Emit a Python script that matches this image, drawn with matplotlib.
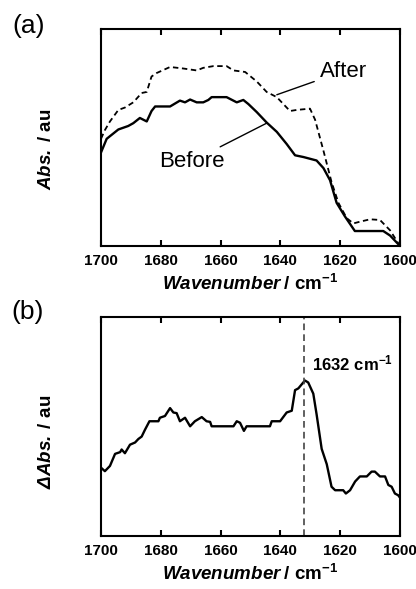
import matplotlib
matplotlib.use("Agg")
import matplotlib.pyplot as plt

plt.rcParams['font.family'] = ['Liberation Sans', 'DejaVu Sans']
plt.rcParams['mathtext.fontset'] = 'custom'
plt.rcParams['mathtext.rm'] = 'Liberation Sans:bold'
plt.rcParams['mathtext.bf'] = 'Liberation Sans:bold'
plt.rcParams['mathtext.it'] = 'Liberation Sans:italic:bold'
plt.rcParams['mathtext.bfit'] = 'Liberation Sans:italic:bold'

# ---- data (a) ----
before_wn = [1700, 1698.1, 1694.2, 1690.9, 1689.2, 1687.0, 1684.7, 1683.1, 1681.9, 1676.9,
             1673.6, 1671.9, 1670.2, 1668.0, 1665.8, 1664.1, 1663.0, 1658.0, 1654.6, 1652.4,
             1650.7, 1647.9, 1644.6, 1641.2, 1637.9, 1635.1, 1632.3, 1627.9, 1625.6, 1623.4,
             1621.2, 1618.4, 1615.1, 1605.6, 1603.3, 1600.0]
before_abs = [0.431, 0.494, 0.537, 0.553, 0.566, 0.590, 0.574, 0.622, 0.643, 0.643,
              0.670, 0.662, 0.675, 0.662, 0.662, 0.673, 0.686, 0.686, 0.662, 0.673,
              0.654, 0.617, 0.569, 0.526, 0.470, 0.418, 0.410, 0.394, 0.359, 0.303,
              0.199, 0.136, 0.069, 0.069, 0.048, 0.0]

after_wn = [1700, 1698.7, 1697.0, 1694.2, 1692.0, 1689.2, 1686.4, 1684.7, 1683.1, 1681.4,
            1676.9, 1672.5, 1668.0, 1665.8, 1662.4, 1658.0, 1655.7, 1651.8, 1647.9, 1644.6,
            1641.2, 1636.8, 1634.6, 1630.1, 1628.4, 1625.6, 1622.9, 1620.6, 1617.8, 1615.6,
            1613.4, 1610.0, 1606.7, 1603.3, 1600.0]
after_abs = [0.494, 0.534, 0.574, 0.627, 0.638, 0.662, 0.705, 0.710, 0.781, 0.797,
             0.825, 0.818, 0.809, 0.821, 0.829, 0.829, 0.809, 0.802, 0.758, 0.710,
             0.686, 0.622, 0.627, 0.633, 0.582, 0.439, 0.295, 0.199, 0.128, 0.104,
             0.112, 0.123, 0.120, 0.072, 0.0]

# ---- data (b) ----
diff_wn = [1700, 1698.7, 1697.0, 1695.3, 1693.6, 1693.1, 1692.0, 1690.3, 1688.6, 1687.5,
           1686.4, 1685.3, 1683.8, 1680.8, 1680.3, 1678.6, 1676.9, 1675.8, 1674.7, 1673.6,
           1671.9, 1670.2, 1668.6, 1666.3, 1664.7, 1663.5, 1663.0, 1655.7, 1654.6, 1653.5,
           1652.2, 1651.3, 1643.5, 1642.9, 1640.1, 1637.9, 1636.2, 1635.1, 1634.0, 1631.8,
           1630.7, 1629.0, 1627.9, 1626.2, 1624.5, 1622.9, 1621.7, 1619.0, 1618.1, 1616.7,
           1615.0, 1613.4, 1611.1, 1609.5, 1608.4, 1606.7, 1605.0, 1603.9, 1602.8, 1601.7,
           1600.6, 1600.0]
diff_abs = [0.312, 0.296, 0.320, 0.375, 0.383, 0.395, 0.378, 0.417, 0.427, 0.443,
            0.454, 0.485, 0.524, 0.524, 0.540, 0.548, 0.584, 0.564, 0.561, 0.524,
            0.540, 0.501, 0.524, 0.543, 0.524, 0.521, 0.501, 0.501, 0.524, 0.517,
            0.480, 0.501, 0.501, 0.524, 0.524, 0.564, 0.572, 0.666, 0.674, 0.710,
            0.701, 0.650, 0.556, 0.398, 0.328, 0.225, 0.209, 0.209, 0.194, 0.209,
            0.249, 0.272, 0.272, 0.294, 0.294, 0.272, 0.272, 0.233, 0.225, 0.194,
            0.186, 0.175]

peak_wn = 1632
xticks = [1700, 1680, 1660, 1640, 1620, 1600]

W, H = 416, 589
fig = plt.figure(figsize=(W / 100, H / 100), dpi=100)

def px_axes(left, top, right, bottom):
    return fig.add_axes([left / W, (H - bottom) / H, (right - left) / W, (bottom - top) / H])

def style(ax):
    ax.set_xlim(1700, 1600)
    ax.set_ylim(0, 1)
    ax.set_xticks(xticks)
    ax.set_xticklabels([str(t) for t in xticks], fontweight='bold', fontsize=11)
    ax.set_yticks([])
    ax.tick_params(axis='x', direction='in', top=True, bottom=True, length=4, width=1.5, pad=6)
    for s in ax.spines.values():
        s.set_linewidth(1.5)
    ax.set_xlabel(r'$\mathbfit{Wavenumber}\:\mathbf{/\ cm^{-1}}$', fontsize=13.5, labelpad=4)

ax1 = px_axes(101, 29, 400, 246)
ax1.plot(after_wn, after_abs, color='black', lw=1.3, ls=(0, (3, 2)))
ax1.plot(before_wn, before_abs, color='black', lw=1.7)
style(ax1)
ax1.set_ylabel(r'$\mathbfit{Abs.}\:\mathbf{/\ au}$', fontsize=13.5)
ax1.yaxis.set_label_coords(-46 / 299, 1 - (149 - 29) / 217)
ax1.annotate('After', xy=(0.588, 0.697), xytext=(0.81, 0.805), xycoords='axes fraction',
             textcoords='axes fraction', fontsize=16, ha='center', va='center',
             arrowprops=dict(arrowstyle='-', color='black', lw=1.0, shrinkA=2, shrinkB=0))
ax1.annotate('Before', xy=(0.554, 0.566), xytext=(0.303, 0.39), xycoords='axes fraction',
             textcoords='axes fraction', fontsize=16, ha='center', va='center',
             arrowprops=dict(arrowstyle='-', color='black', lw=1.0, shrinkA=2, shrinkB=0))

ax2 = px_axes(101, 317, 400, 536)
ax2.plot(diff_wn, diff_abs, color='black', lw=1.7)
ax2.axvline(peak_wn, color='#444444', lw=1.2, ls=(0, (4, 2.5)))
style(ax2)
ax2.set_ylabel(r'$\mathbfit{\Delta Abs.}\:\mathbf{/\ au}$', fontsize=13.5)
ax2.yaxis.set_label_coords(-46 / 299, 1 - (442 - 317) / 219)
ax2.text(1629.5, 0.79, r'$\mathbf{1632\ cm^{-1}}$', fontsize=12, ha='left', va='center')

fig.text(12 / W, 1 - 25.5 / H, '(a)', fontsize=19, ha='left', va='center')
fig.text(11 / W, 1 - 312 / H, '(b)', fontsize=19, ha='left', va='center')

fig.savefig('out.png', dpi=100)
